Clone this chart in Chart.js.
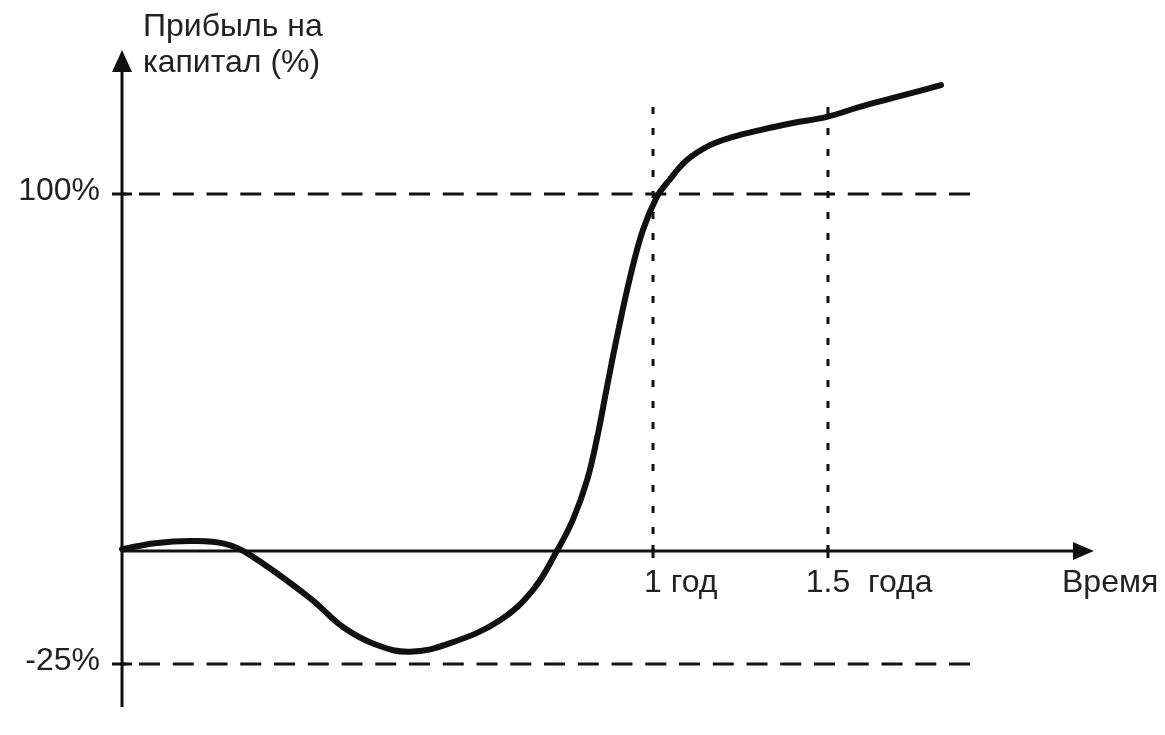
<!DOCTYPE html>
<html>
<head>
<meta charset="utf-8">
<script src="https://cdn.jsdelivr.net/npm/chart.js@4.4.0/dist/chart.umd.min.js"></script>
<style>
  html, body { margin: 0; padding: 0; background: #fff; }
  #wrap { width: 1165px; height: 735px; position: relative; }
</style>
</head>
<body>
<div id="wrap"><canvas id="profitChart"></canvas></div>
<script>
// Curve: time in years, profit on capital in %
const timeYears = [0, 0.062, 0.134, 0.194, 0.24, 0.354, 0.416, 0.48, 0.542, 0.618, 0.712, 0.774, 0.819, 0.849, 0.876, 0.895, 0.913, 0.932, 0.957, 0.981, 1.011, 1.04, 1.097, 1.163, 1.229, 1.306, 1.4, 1.497, 1.591, 1.686, 1.823];
const profitPct = [0.5, 2.2, 2.8, 2.0, -0.8, -10.4, -16.8, -20.8, -22.3, -20.4, -15.3, -8.6, 0, 8.7, 19.9, 31.9, 45.7, 59.9, 76.8, 89.9, 99.2, 103.1, 109.5, 113.7, 116.0, 117.9, 119.9, 121.6, 124.4, 126.9, 130.5];

// Reference levels and time markers
const yTickValues = [100, -25];
const yTickLabels = ["100%", "-25%"];
const xTickValues = [1, 1.5];
const xTickLabels = ["1 год", "1.5  года"];
const guideEndX = 1.914;   // dashed levels stop here
const guideTopY = 124.4;   // top of the dotted time markers
const xAxisEnd = 2.26;
const yAxisRange = [-34.5, 140.3];
const yTitle = ["Прибыль на", "капитал (%)"];
const xTitle = "Время";

// The drawing is not to scale: time after 1 year is squeezed,
// and the negative side of the profit axis is stretched.
const warps = {
  x: (v) => (v <= 1 ? v : 1 + (v - 1) * 0.659),
  y: (v) => (v >= 0 ? v : v * 1.266),
};

class WarpScale extends Chart.LinearScale {
  getPixelForValue(value) {
    const f = warps[this.id];
    return super.getPixelForValue(f ? f(value) : value);
  }
}
WarpScale.id = "warp";
WarpScale.defaults = Chart.LinearScale.defaults;
Chart.register(WarpScale);

const INK = "#111";
const TEXT = "#222";
const FONT = '32px "Liberation Sans", Arial, sans-serif';

const curve = timeYears.map((t, i) => ({ x: t, y: profitPct[i] }));

const datasets = [
  {
    data: curve,
    borderColor: INK,
    borderWidth: 6,
    pointRadius: 0,
    tension: 0.4,
    borderCapStyle: "round",
  },
];
yTickValues.forEach((v) => {
  datasets.push({
    data: [{ x: 0, y: v }, { x: guideEndX, y: v }],
    borderColor: INK,
    borderWidth: 3,
    borderDash: [21, 12.75],
    borderDashOffset: 16.75,
    pointRadius: 0,
  });
});
xTickValues.forEach((t) => {
  datasets.push({
    data: [{ x: t, y: guideTopY }, { x: t, y: 0 }],
    borderColor: INK,
    borderWidth: 3,
    borderDash: [7, 14],
    pointRadius: 0,
  });
});

const schemePlugin = {
  id: "scheme",
  beforeDatasetsDraw(chart) {
    const { ctx, scales: { x, y } } = chart;
    const x0 = x.getPixelForValue(0);
    const y0 = y.getPixelForValue(0);
    const yTop = y.getPixelForValue(yAxisRange[1]);
    const yBot = y.getPixelForValue(yAxisRange[0]);
    const xEnd = x.getPixelForValue(xAxisEnd);
    ctx.save();
    ctx.strokeStyle = INK;
    ctx.fillStyle = INK;
    ctx.lineWidth = 3;
    // vertical axis with arrow
    ctx.beginPath();
    ctx.moveTo(x0, yBot);
    ctx.lineTo(x0, yTop + 12);
    ctx.stroke();
    ctx.beginPath();
    ctx.moveTo(x0, yTop);
    ctx.lineTo(x0 - 10, yTop + 22);
    ctx.lineTo(x0 + 10, yTop + 22);
    ctx.closePath();
    ctx.fill();
    // horizontal axis with arrow
    ctx.beginPath();
    ctx.moveTo(x0, y0);
    ctx.lineTo(xEnd - 12, y0);
    ctx.stroke();
    ctx.beginPath();
    ctx.moveTo(xEnd, y0);
    ctx.lineTo(xEnd - 21, y0 - 9);
    ctx.lineTo(xEnd - 21, y0 + 9);
    ctx.closePath();
    ctx.fill();
    // small tick marks crossing the axes
    ctx.beginPath();
    yTickValues.forEach((v) => {
      const py = y.getPixelForValue(v);
      ctx.moveTo(x0 - 10, py);
      ctx.lineTo(x0 + 10, py);
    });
    xTickValues.forEach((t) => {
      const px = x.getPixelForValue(t);
      ctx.moveTo(px, y0 - 6);
      ctx.lineTo(px, y0 + 7);
    });
    ctx.stroke();
    ctx.restore();
  },
  afterDatasetsDraw(chart) {
    const { ctx, scales: { x, y } } = chart;
    const x0 = x.getPixelForValue(0);
    const y0 = y.getPixelForValue(0);
    const yTop = y.getPixelForValue(yAxisRange[1]);
    ctx.save();
    ctx.fillStyle = TEXT;
    ctx.font = FONT;
    // axis titles
    ctx.textAlign = "left";
    ctx.textBaseline = "alphabetic";
    ctx.fillText(yTitle[0], x0 + 21, yTop - 14);
    ctx.fillText(yTitle[1], x0 + 21, yTop + 22);
    ctx.fillText(xTitle, 1062, y0 + 41);
    // time labels: the number sits centred on its marker
    xTickValues.forEach((t, i) => {
      const num = xTickLabels[i].split(" ")[0];
      const px = x.getPixelForValue(t) - ctx.measureText(num).width / 2;
      ctx.fillText(xTickLabels[i], px, y0 + 41);
    });
    // level labels
    ctx.textAlign = "right";
    ctx.textBaseline = "middle";
    yTickValues.forEach((v, i) => {
      ctx.fillText(yTickLabels[i], x0 - 22, y.getPixelForValue(v) - 3);
    });
    ctx.restore();
  },
};

new Chart(document.getElementById("profitChart"), {
  type: "line",
  data: { datasets },
  options: {
    responsive: true,
    maintainAspectRatio: false,
    animation: false,
    devicePixelRatio: 1,
    layout: { padding: 0 },
    plugins: { legend: { display: false }, tooltip: { enabled: false } },
    scales: {
      x: { type: "warp", min: -0.2298, max: 1.9642, bounds: "data", display: false },
      y: { type: "warp", min: -51.54, max: 154.34, bounds: "data", display: false },
    },
  },
  plugins: [schemePlugin],
});
</script>
</body>
</html>
